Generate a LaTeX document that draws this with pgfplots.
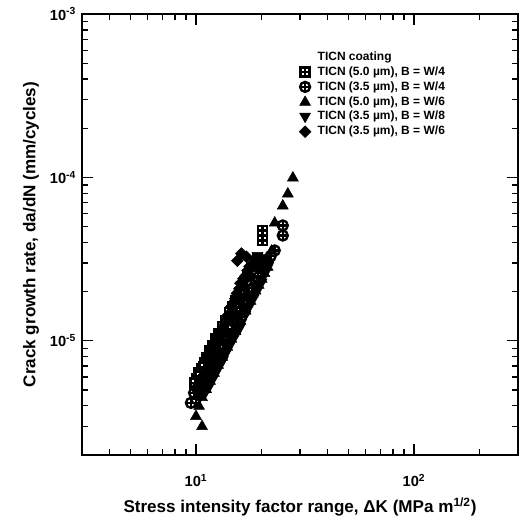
\documentclass[border=0pt]{standalone}
\usepackage{fontspec}
\setmainfont{Liberation Sans}
\usepackage{pgfplots}
\pgfplotsset{compat=1.18}

\pgfdeclareplotmark{boxplus}{%
  \pgfpathrectangle{\pgfqpoint{-\pgfplotmarksize}{-\pgfplotmarksize}}{\pgfqpoint{2\pgfplotmarksize}{2\pgfplotmarksize}}%
  \pgfusepathqfillstroke
  \pgfpathmoveto{\pgfqpoint{-\pgfplotmarksize}{0pt}}\pgfpathlineto{\pgfqpoint{\pgfplotmarksize}{0pt}}%
  \pgfpathmoveto{\pgfqpoint{0pt}{-\pgfplotmarksize}}\pgfpathlineto{\pgfqpoint{0pt}{\pgfplotmarksize}}%
  \pgfusepathqstroke}
\pgfdeclareplotmark{circplus}{%
  \pgfpathcircle{\pgfpointorigin}{1.1\pgfplotmarksize}%
  \pgfusepathqfillstroke
  \pgfpathmoveto{\pgfqpoint{-1.1\pgfplotmarksize}{0pt}}\pgfpathlineto{\pgfqpoint{1.1\pgfplotmarksize}{0pt}}%
  \pgfpathmoveto{\pgfqpoint{0pt}{-1.1\pgfplotmarksize}}\pgfpathlineto{\pgfqpoint{0pt}{1.1\pgfplotmarksize}}%
  \pgfusepathqstroke}
\pgfdeclareplotmark{tri}{%
  \pgfpathmoveto{\pgfqpoint{0pt}{1.3\pgfplotmarksize}}%
  \pgfpathlineto{\pgfqpoint{-1.2\pgfplotmarksize}{-0.8\pgfplotmarksize}}%
  \pgfpathlineto{\pgfqpoint{1.2\pgfplotmarksize}{-0.8\pgfplotmarksize}}%
  \pgfpathclose\pgfusepathqfillstroke}
\pgfdeclareplotmark{itri}{%
  \pgfpathmoveto{\pgfqpoint{0pt}{-1.3\pgfplotmarksize}}%
  \pgfpathlineto{\pgfqpoint{-1.2\pgfplotmarksize}{0.8\pgfplotmarksize}}%
  \pgfpathlineto{\pgfqpoint{1.2\pgfplotmarksize}{0.8\pgfplotmarksize}}%
  \pgfpathclose\pgfusepathqfillstroke}
\pgfdeclareplotmark{dia}{%
  \pgfpathmoveto{\pgfqpoint{0pt}{1.3\pgfplotmarksize}}%
  \pgfpathlineto{\pgfqpoint{-1.3\pgfplotmarksize}{0pt}}%
  \pgfpathlineto{\pgfqpoint{0pt}{-1.3\pgfplotmarksize}}%
  \pgfpathlineto{\pgfqpoint{1.3\pgfplotmarksize}{0pt}}%
  \pgfpathclose\pgfusepathqfillstroke}

\begin{document}
\begin{tikzpicture}
\begin{axis}[
  scale only axis,
  width=327pt, height=330.75pt,
  xmode=log, ymode=log,
  xmin=3, xmax=300, ymin=2e-6, ymax=1e-3,
  xtick={10,100},
  xticklabels={10\textsuperscript{1},10\textsuperscript{2}},
  minor xtick={3,4,5,6,7,8,9,20,30,40,50,60,70,80,90,200,300},
  ytick={1e-5,1e-4,1e-3},
  yticklabels={10\textsuperscript{-5},10\textsuperscript{-4},10\textsuperscript{-3}},
  minor ytick={2e-6,3e-6,4e-6,5e-6,6e-6,7e-6,8e-6,9e-6,2e-5,3e-5,4e-5,5e-5,6e-5,7e-5,8e-5,9e-5,2e-4,3e-4,4e-4,5e-4,6e-4,7e-4,8e-4,9e-4},
  tick align=inside,
  major tick length=8pt, minor tick length=4.5pt,
  every tick/.style={black, line width=1pt},
  axis line style={line width=1.3pt},
  ticklabel style={font=\bfseries\fontsize{11}{13}\selectfont},
  xticklabel style={yshift=-11pt},
  yticklabel style={xshift=-1pt},
  label style={font=\bfseries\fontsize{12.8}{15}\selectfont},
  xlabel={Stress intensity factor range, ΔK (MPa m\textsuperscript{1/2})},
  ylabel={Crack growth rate, da/dN (mm/cycles)},
  xlabel style={at={(axis description cs:0.5,-0.118)},anchor=center},
  ylabel style={at={(axis description cs:-0.117,0.5)},anchor=center},
  legend style={at={(axis description cs:0.485,0.92)}, anchor=north west, draw=none, fill=none,
    font=\bfseries\fontsize{9}{10}\selectfont, inner sep=0pt,
    nodes={inner sep=1pt, text height=7pt, text depth=2.2pt},
    /tikz/every odd column/.append style={column sep=4pt}},
  legend cell align=left,
  mark size=3.4pt,
]
\coordinate (bl) at (rel axis cs:0,0);
\coordinate (tr) at (rel axis cs:1,1);
\addlegendimage{empty legend}
\addlegendentry{TICN coating}

\addplot[only marks, mark=boxplus, mark options={draw=black, fill=white, line width=1.8pt}] coordinates {
(10.11,5.85e-6)(10.33,6.37e-6)(10.66,6.73e-6)(11.01,7.33e-6)(11.24,7.87e-6)
(11.61,8.68e-6)(11.99,9.32e-6)(12.38,1.03e-5)(12.78,1.10e-5)(13.20,1.22e-5)
(13.62,1.33e-5)(14.22,1.49e-5)(14.68,1.62e-5)(15.16,1.76e-5)(15.82,1.97e-5)
(16.51,2.21e-5)(17.23,2.47e-5)(17.98,2.77e-5)(19.16,3.19e-5)(20.21,4.11e-5)
(20.21,4.73e-5)(11.3,7.0e-6)(12.9,9.8e-6)(14.5,1.3e-5)(16.3,1.75e-5)(18.4,2.4e-5)
(10.5,6.1e-6)(11.8,8.3e-6)(13.4,1.15e-5)(15.4,1.6e-5)(17.5,2.2e-5)(19.5,2.9e-5)
(9.9,5.5e-6)(10.9,6.9e-6)(12.1,9.0e-6)(13.0,1.05e-5)(14.0,1.25e-5)(14.9,1.45e-5)
(16.0,1.85e-5)(16.9,2.05e-5)(18.0,2.55e-5)(18.8,2.95e-5)
};
\addlegendentry{TICN (5.0 µm), B = W/4}

\addplot[only marks, mark=circplus, mark options={draw=black, fill=white, line width=1.8pt}] coordinates {
(9.48,4.17e-6)(10.0,4.41e-6)(10.44,4.80e-6)(10.77,5.30e-6)(11.12,5.85e-6)
(11.48,6.37e-6)(11.99,7.03e-6)(12.51,7.98e-6)(13.06,8.93e-6)(13.62,1.0e-5)
(14.22,1.12e-5)(14.84,1.25e-5)(15.48,1.40e-5)(16.16,1.57e-5)(16.86,1.76e-5)
(17.6,1.97e-5)(18.76,2.27e-5)(20.0,2.61e-5)(21.32,3.01e-5)(22.97,3.57e-5)
(25.01,4.41e-5)(25.01,5.08e-5)(12.2,8.6e-6)(14.0,1.18e-5)(15.9,1.6e-5)(17.9,2.2e-5)
(10.2,5.2e-6)(11.6,6.8e-6)(13.3,9.5e-6)(15.2,1.3e-5)(17.2,1.85e-5)(19.3,2.45e-5)
(9.8,4.8e-6)(10.6,5.6e-6)(11.3,6.1e-6)(12.7,8.4e-6)(13.9,1.06e-5)(14.7,1.35e-5)
(16.5,1.68e-5)(18.3,2.1e-5)(19.6,2.8e-5)(22.0,3.3e-5)
};
\addlegendentry{TICN (3.5 µm), B = W/4}

\addplot[only marks, mark=tri, mark options={draw=black, fill=black}] coordinates {
(10.66,3.01e-6)(10.0,3.47e-6)(10.33,4.0e-6)(10.66,4.53e-6)(11.12,5.08e-6)
(11.61,5.69e-6)(12.11,6.37e-6)(12.64,7.13e-6)(13.20,7.98e-6)(13.92,9.19e-6)
(14.52,1.03e-5)(15.16,1.15e-5)(15.99,1.33e-5)(16.86,1.53e-5)(17.78,1.76e-5)
(18.76,2.03e-5)(20.0,2.40e-5)(21.32,2.84e-5)(22.24,3.57e-5)(22.97,5.30e-5)
(25.01,6.74e-5)(26.38,7.98e-5)(27.83,1.0e-4)(13.0,1.05e-5)(15.0,1.45e-5)(17.0,1.95e-5)(19.5,2.8e-5)
(11.4,6.2e-6)(12.4,7.6e-6)(14.0,1.0e-5)(16.4,1.5e-5)(18.2,1.95e-5)(20.6,2.6e-5)
(10.4,4.8e-6)(11.0,5.4e-6)(11.9,6.9e-6)(12.9,8.5e-6)(14.3,1.1e-5)(15.5,1.25e-5)
(16.2,1.65e-5)(17.4,1.85e-5)(19.4,2.2e-5)(20.6,3.1e-5)
};
\addlegendentry{TICN (5.0 µm), B = W/6}

\addplot[only marks, mark=itri, mark options={draw=black, fill=black}] coordinates {
(11.01,4.80e-6)(11.48,5.22e-6)(11.99,5.85e-6)(12.51,6.55e-6)(13.06,7.33e-6)
(13.62,8.21e-6)(14.22,9.19e-6)(14.84,1.03e-5)(15.48,1.15e-5)(16.16,1.29e-5)
(16.86,1.44e-5)(17.6,1.62e-5)(18.36,1.81e-5)(19.16,2.03e-5)(20.0,2.27e-5)
(20.86,2.61e-5)(21.78,3.01e-5)(21.32,3.2e-5)(19.16,3.3e-5)(12.0,7.6e-6)(15.0,1.25e-5)
(10.8,5.6e-6)(12.9,7.8e-6)(14.5,1.1e-5)(15.8,1.38e-5)(17.5,1.9e-5)(19.5,2.4e-5)
(11.2,5.0e-6)(12.2,6.2e-6)(13.3,7.6e-6)(13.9,8.7e-6)(15.2,1.08e-5)(15.9,1.2e-5)
(16.7,1.52e-5)(17.6,1.72e-5)(18.5,2.15e-5)(20.5,2.8e-5)
};
\addlegendentry{TICN (3.5 µm), B = W/8}

\addplot[only marks, mark=dia, mark options={draw=black, fill=black}] coordinates {
(10.33,5.30e-6)(10.66,5.85e-6)(11.01,6.55e-6)(11.36,7.33e-6)(11.73,8.21e-6)
(12.24,9.19e-6)(12.64,1.03e-5)(13.06,1.15e-5)(13.62,1.29e-5)(14.07,1.44e-5)
(14.52,1.62e-5)(15.16,1.81e-5)(15.82,2.08e-5)(16.51,2.40e-5)(17.23,2.69e-5)
(15.48,3.09e-5)(16.16,3.42e-5)(17.04,3.27e-5)(18.56,3.01e-5)
(10.9,6.2e-6)(12.0,8.6e-6)(13.3,1.22e-5)(14.8,1.7e-5)(16.0,2.25e-5)(17.6,2.85e-5)
(10.1,5.0e-6)(10.7,6.0e-6)(11.5,7.8e-6)(12.4,9.8e-6)(13.2,1.1e-5)(13.9,1.36e-5)
(14.8,1.52e-5)(15.4,1.95e-5)(16.9,2.5e-5)(17.8,2.75e-5)
};
\addlegendentry{TICN (3.5 µm), B = W/6}
\end{axis}
\pgfresetboundingbox
\path[use as bounding box] ([xshift=-61.5pt,yshift=-49.5pt]bl) rectangle ([xshift=3pt,yshift=10.5pt]tr);
\end{tikzpicture}
\end{document}
